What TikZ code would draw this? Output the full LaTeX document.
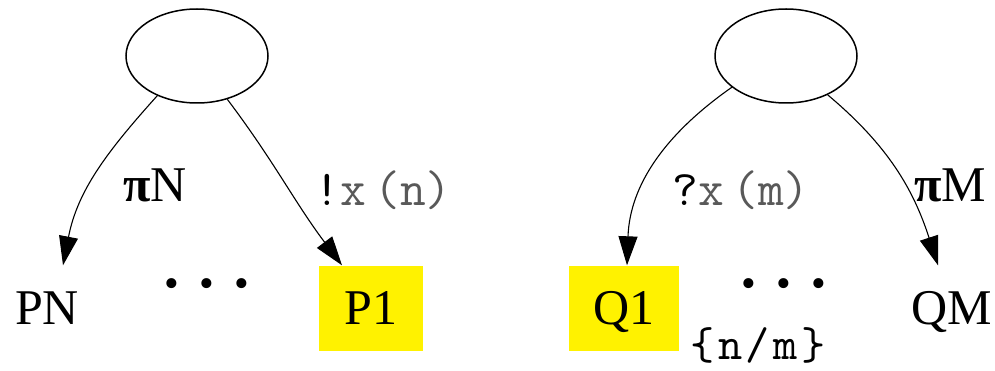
\documentclass[tikz,border=0pt]{standalone}
\usepackage{fontspec}
\setmainfont{Liberation Serif}
\newfontfamily\widett{lmmono10-regular.otf}[LetterSpace=7.5]
\usepackage{xcolor}
\usepackage{tikz}
\usetikzlibrary{shapes.geometric, arrows.meta, positioning}

\begin{document}
\begin{tikzpicture}[
    x=1pt, y=1pt, on grid,
    proc/.style={ellipse, draw, line width=1.5pt, minimum width=142pt, minimum height=94pt, inner sep=0pt},
    leaf/.style={minimum height=85pt, inner sep=0pt, text height=33pt, text depth=0pt, font=\fontsize{50}{60}\selectfont},
    hilite/.style={leaf, fill=yellow, minimum width=104pt},
    act/.style={inner sep=0pt, font=\fontsize{50}{60}\selectfont},
    chan/.style={inner sep=0pt, text=black!65, font=\ttfamily\fontsize{50}{56}\selectfont},
    dots/.style={inner sep=0pt, font=\fontsize{42}{44}\selectfont},
    line/.style={draw, line width=1.1pt, -{Triangle[length=29pt, width=19pt]}}
]
\useasboundingbox (0,0) rectangle (995,-371);

% left process
\node [proc] (pl) at (197,-56) {};
\node [leaf, below left=252pt and 150pt of pl] (pn) {PN};
\node [dots, below right=232pt and 10pt of pl] (dl) {\textbullet\hspace{20pt}\textbullet\hspace{20pt}\textbullet};
\node [hilite, right=324pt of pn] (p1) {P1};
\node [act, below left=129pt and 42pt of pl] (pin) {\textbf{π}N};
\node [chan, below right=134pt and 186pt of pl] (send) {\textcolor{black}{!}x\,(n)};

% right process
\node [proc, right=589pt of pl] (pr) {};
\node [hilite, minimum width=110pt, below left=252pt and 162pt of pr] (q1) {Q1};
\node [dots, below left=232pt and 2pt of pr] (dr) {\textbullet\hspace{20pt}\textbullet\hspace{20pt}\textbullet};
\node [leaf, below right=252pt and 166pt of pr] (qm) {QM};
\node [act, below right=129pt and 164pt of pr] (pim) {\textbf{π}M};
\node [chan, below left=134pt and 45pt of pr] (recv) {\textcolor{black}{?}x\,(m)};
\node [inner sep=0pt, font=\widett\fontsize{46}{50}\selectfont, below right=37pt and 134pt of q1] (subst) {\{n/m\}};

% Connections
\draw [line] (pl.225) to[out=-132, in=79] ([xshift=16pt]pn.north);
\draw [line] (pl.-55) to[out=-53, in=127] ([xshift=-29pt]p1.north);
\draw [line] (pr.210) to[out=-145, in=88] ([xshift=3pt]q1.north);
\draw [line] (pr.-43) to[out=-40, in=108] ([xshift=-14pt]qm.north);

\end{tikzpicture}
\end{document}
